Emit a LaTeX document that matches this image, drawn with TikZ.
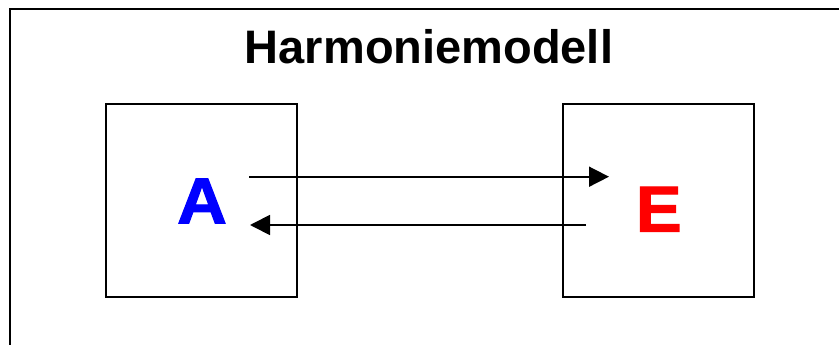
\documentclass[tikz,border=0pt]{standalone}
\usepackage{fontspec}
\setmainfont{Liberation Sans}
\newfontfamily\heavyface[FakeBold=1.6]{Liberation Sans Bold}
\usetikzlibrary{arrows.meta}
\begin{document}
\begin{tikzpicture}[x=1pt,y=-1pt,
  frameline/.style={line width=2pt,line cap=rect},
  party/.style={draw,line width=2pt},
  flow/.style={line width=1.7pt,-{Triangle[length=20pt,width=20pt]}},
  bigletter/.style={font=\fontsize{65}{65}\selectfont\heavyface,anchor=base,inner sep=0pt,xscale=1.06},
  heading/.style={font=\fontsize{47}{47}\selectfont\bfseries,anchor=base,inner sep=0pt}]
  \useasboundingbox (0,0) rectangle (839,345);
  % open outer frame
  \coordinate (fbl) at (10,346);
  \coordinate (ftl) at (10,9.5);
  \coordinate (ftr) at (840,9.5);
  \draw[frameline] (fbl) -- (ftl) -- (ftr);
  % title
  \node[heading] (title) at (429,64) {Harmoniemodell};
  % the two boxes
  \draw[party] (106,104.5) rectangle (297,296.5);
  \draw[party] (562.5,104.5) rectangle (754,296.5);
  % letters
  \node[bigletter,text=blue] (a) at (202,223.3) {A};
  \node[bigletter,text=red] (e) at (658.7,231.7) {E};
  % exchange arrows
  \coordinate (t1) at (249,176.7);
  \coordinate (t2) at (609,176.7);
  \coordinate (b1) at (586,225);
  \coordinate (b2) at (250,225);
  \draw[flow] (t1) -- (t2);
  \draw[flow] (b1) -- (b2);
\end{tikzpicture}
\end{document}
